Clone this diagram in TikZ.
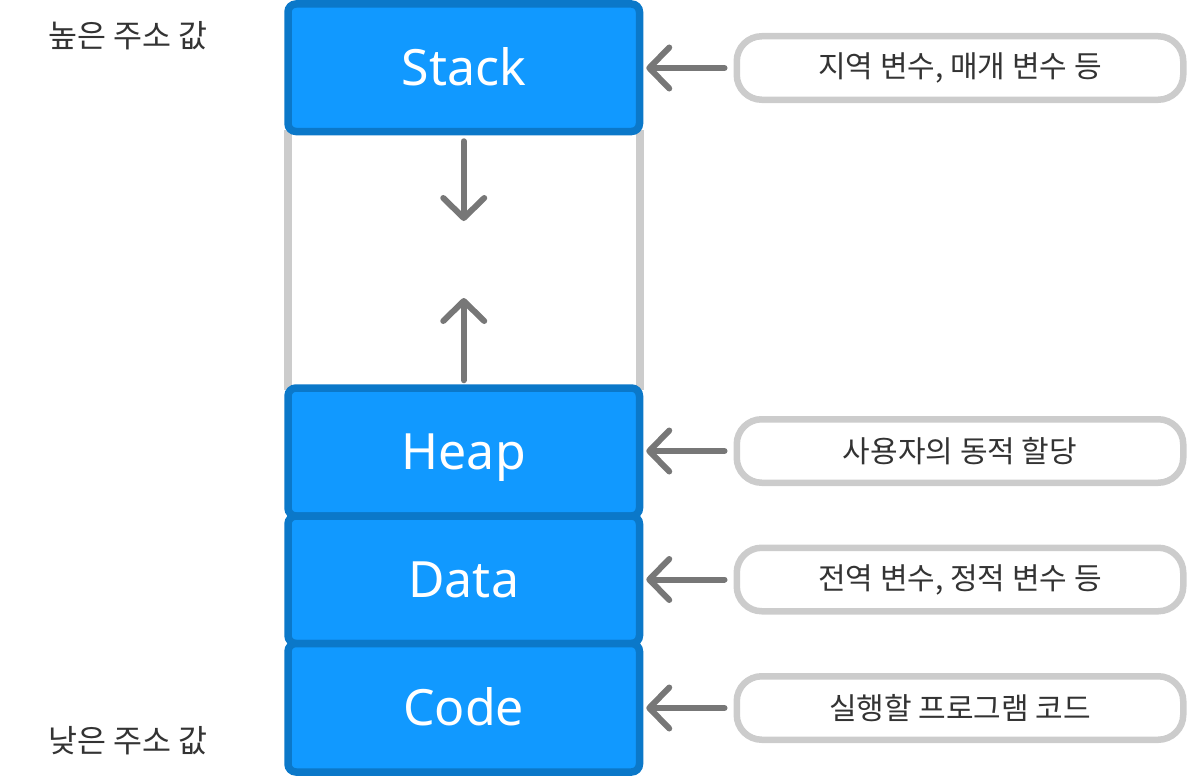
\documentclass[tikz,border=0pt]{standalone}
\usepackage{fontspec}
\setmainfont{Noto Sans}
\newfontfamily\kr{Noto Sans CJK KR}
\usetikzlibrary{arrows.meta}
\definecolor{segfill}{RGB}{17,153,255}
\definecolor{segline}{RGB}{11,120,201}
\definecolor{lightgray}{RGB}{204,204,204}
\definecolor{arrgray}{RGB}{119,119,119}
\definecolor{txt}{RGB}{51,51,51}
\tikzset{
  seg/.style={draw=segline, fill=segfill, line width=7.5pt, rounded corners=8pt,
    minimum width=351.5pt, inner sep=0pt},
  segtext/.style={anchor=base, text=white, inner sep=0pt,
    font=\fontsize{50}{50}\selectfont},
  lbl/.style={draw=lightgray, fill=white, line width=6.5pt, rounded corners=25pt,
    minimum width=446.5pt, minimum height=63.5pt, inner sep=0pt, text=txt,
    font=\kr\fontsize{30}{30}\selectfont},
  addr/.style={text=txt, inner sep=0pt, font=\kr\fontsize{31.5}{31.5}\selectfont},
  arr/.style={draw=arrgray, line width=6pt, line cap=round,
    -{Straight Barb[length=20pt, width=41pt, round]}},
  col/.style={draw=lightgray, line width=8pt}
}
\begin{document}
\begin{tikzpicture}[x=1pt, y=-1pt]
\useasboundingbox (0,0) rectangle (1188,776);
% column side walls
\coordinate (wl1) at (288,130);
\coordinate (wl2) at (288,390);
\coordinate (wr1) at (639.5,130);
\coordinate (wr2) at (639.5,390);
\draw[col] (wl1) -- (wl2);
\draw[col] (wr1) -- (wr2);
% segments
\node[seg, minimum height=127.5pt] (stack) at (463.75,67.75) {};
\node[seg, minimum height=128pt] (heap) at (463.75,452) {};
\node[seg, minimum height=127.5pt] (data) at (463.75,579.75) {};
\node[seg, minimum height=128.5pt] (code) at (463.75,707.75) {};
\node[segtext] (tstack) at (463.75,85.25) {Stack};
\node[segtext] (theap) at (463.75,469.5) {Heap};
\node[segtext] (tdata) at (463.75,597.25) {Data};
\node[segtext] (tcode) at (463.75,725.5) {Code};
% growth arrows
\coordinate (dtip) at (463.75,221);
\coordinate (utip) at (463.75,298);
\draw[arr, shorten <=6pt] (stack.south) -- (dtip);
\draw[arr, shorten <=4pt] (heap.north) -- (utip);
% labels
\node[lbl] (l1) at (960,68) {지역 변수, 매개 변수 등};
\node[lbl] (l2) at (960,451) {사용자의 동적 할당};
\node[lbl] (l3) at (960,579.5) {전역 변수, 정적 변수 등};
\node[lbl] (l4) at (960,708) {실행할 프로그램 코드};
\draw[arr, shorten <=9pt, shorten >=3pt] (l1.west) -- (l1.west -| stack.east);
\draw[arr, shorten <=9pt, shorten >=3pt] (l2.west) -- (l2.west -| heap.east);
\draw[arr, shorten <=9pt, shorten >=3pt] (l3.west) -- (l3.west -| data.east);
\draw[arr, shorten <=9pt, shorten >=3pt] (l4.west) -- (l4.west -| code.east);
% address labels
\node[addr] (hi) at (128,36) {높은 주소 값};
\node[addr] (lo) at (128,741) {낮은 주소 값};
\end{tikzpicture}
\end{document}
